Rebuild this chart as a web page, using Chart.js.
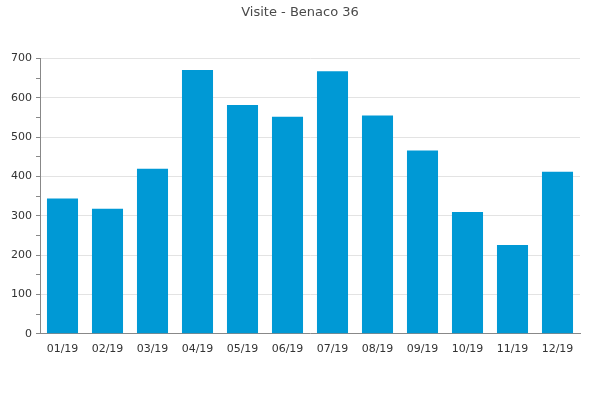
<!DOCTYPE html>
<html>
<head>
<meta charset="utf-8">
<script src="https://cdn.jsdelivr.net/npm/chart.js@4"></script>
<style>
  html, body { margin:0; padding:0; background:#fff; }
  #wrap { width:600px; height:400px; }
</style>
</head>
<body>
<div id="wrap"><canvas id="c" width="600" height="400"></canvas></div>
<script>
const months = ['01/19','02/19','03/19','04/19','05/19','06/19','07/19','08/19','09/19','10/19','11/19','12/19'];
const visits = [344, 318, 420, 671, 582, 552, 668, 555, 466, 310, 226, 412];
const chartTitle = 'Visite - Benaco 36';

Chart.defaults.font.family = '"DejaVu Sans", sans-serif';
Chart.defaults.color = '#333';

new Chart(document.getElementById('c').getContext('2d'), {
    type: 'bar',
    data: {
        labels: months,
        datasets: [{ label: 'Visite', data: visits, backgroundColor: '#0099d5', borderWidth: 0, barPercentage: 0.69, categoryPercentage: 1.0 }]
    },
    options: {
        responsive: false,
        animation: false,
        layout: { padding: { left: 6, right: 6, top: 5, bottom: 35 } },
        plugins: {
            legend: { display: false },
            tooltip: { enabled: false },
            title: { display: true, text: chartTitle, color: '#4a4a4a', font: { size: 13, weight: 'normal' }, padding: { top: 0, bottom: 38 } }
        },
        scales: {
            x: {
                grid: { display: false, drawTicks: false },
                border: { color: '#888' },
                ticks: { color: '#333', font: { size: 11 }, padding: 9, maxRotation: 0 }
            },
            y: {
                min: 0, max: 700,
                afterFit: scale => { scale.width = 34; },
                grid: {
                    color: ctx => (ctx.tick && ctx.tick.value % 100 === 0) ? '#e3e3e3' : 'rgba(0,0,0,0)',
                    tickColor: '#888',
                    tickLength: 4
                },
                border: { color: '#888' },
                ticks: {
                    stepSize: 50,
                    color: '#333',
                    font: { size: 11 },
                    padding: 4,
                    autoSkip: false,
                    callback: v => (v % 100 === 0 ? v : '')
                }
            },
            spacer: {
                position: 'right',
                min: 0, max: 700,
                afterFit: scale => { scale.width = 14; },
                grid: { display: false },
                border: { display: false },
                ticks: { display: false }
            }
        }
    }
});
</script>
</body>
</html>
